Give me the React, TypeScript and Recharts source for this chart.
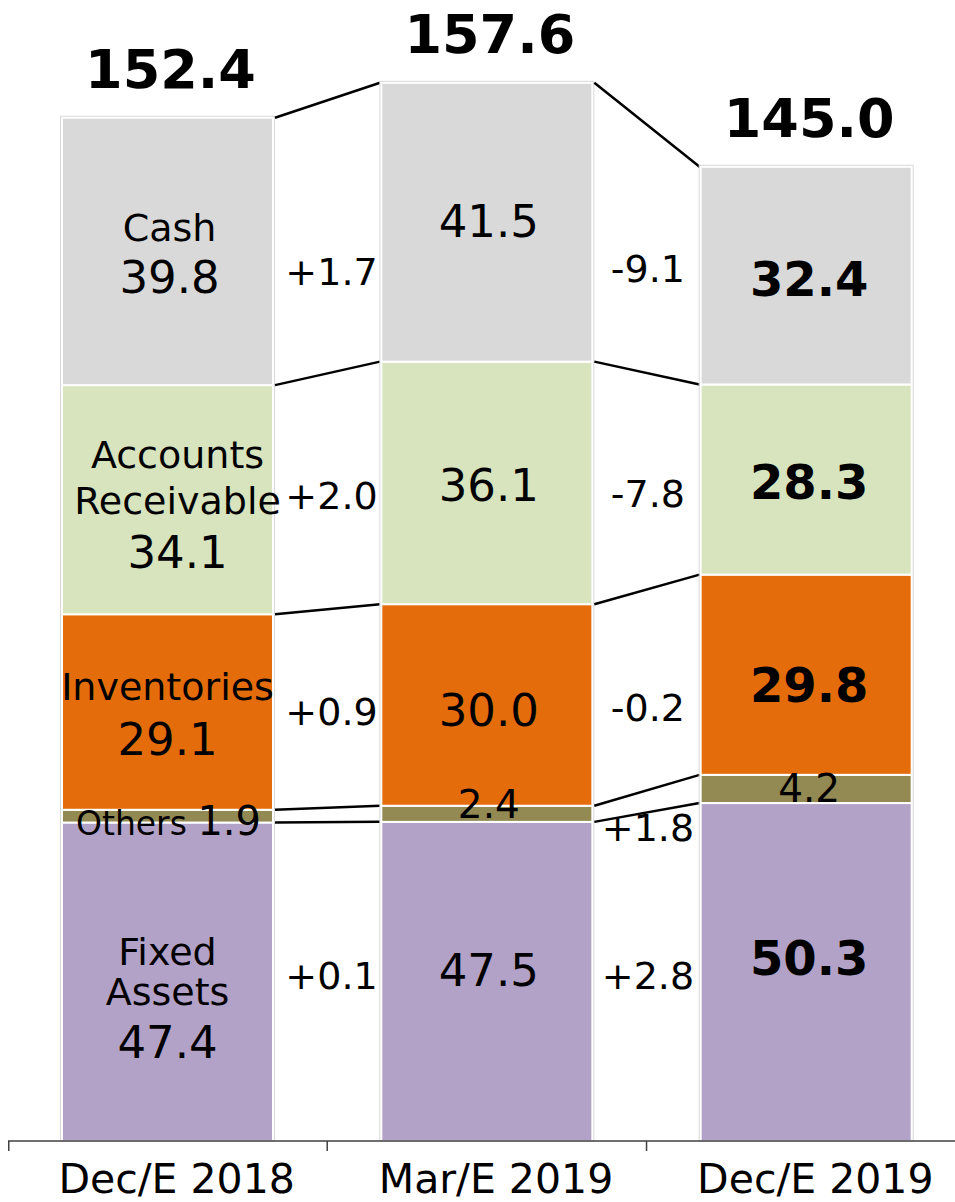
import React from 'react';
import { BarChart, Bar, XAxis, YAxis } from 'recharts';

// ---------- data ----------
const categories = ['Dec/E 2018', 'Mar/E 2019', 'Dec/E 2019'];
const fixedAssets = [47.4, 47.5, 50.3];
const others = [1.9, 2.4, 4.2];
const inventories = [29.1, 30.0, 29.8];
const receivables = [34.1, 36.1, 28.3];
const cash = [39.8, 41.5, 32.4];
const totalLabels = ['152.4', '157.6', '145.0'];
// changes between periods, bottom-up order: fixed, others, inventories, receivables, cash
const changeLabels1 = ['+0.1', '', '+0.9', '+2.0', '+1.7'];
const changeLabels2 = ['+2.8', '+1.8', '-0.2', '-7.8', '-9.1'];

const seriesKeys = ['fixed', 'others', 'inventories', 'receivables', 'cash'];
const seriesNames = [['Fixed', 'Assets'], ['Others'], ['Inventories'], ['Accounts', 'Receivable'], ['Cash']];
const seriesColors = ['#B3A2C7', '#938953', '#E46C0A', '#D7E4BD', '#D9D9D9'];
const seriesValues = [fixedAssets, others, inventories, receivables, cash];

const data = categories.map((c, i) => ({
  name: c,
  fixed: fixedAssets[i],
  others: others[i],
  inventories: inventories[i],
  receivables: receivables[i],
  cash: cash[i],
}));

// ---------- style / layout ----------
const FONT = '"DejaVu Sans", Verdana, sans-serif';
const MARGIN = { top: 66, right: 0, bottom: 0, left: 8 };
const NAME_SIZE = 38;
const NUM_SIZE = 45;
const DELTA_SIZE = 38;

// baseline offsets relative to segment centre
const nameDy0 = [[-17, 23], [], [-12], [-31.5, 14.5], [-10.5]];
const nameDx0 = [0, 0, 0, 10, 2];
const valueDy0 = [76, 18.5, 43, 68.5, 41.5];
const valueDy1 = [5, 4, 21, 18, 15];
const valueDy2 = [3, 13, 27, 19, 20];
const deltaDy = [
  [-7, 0, 3, 4, 34],
  [-2, 26, 17, 12, 19.5],
];
const deltaDx = [4, 1];

function cumBelow(i: number, s: number) {
  let t = 0;
  for (let k = 0; k < s; k++) t += seriesValues[k][i];
  return t;
}

const makeShape = (color: string) => (props: any) => {
  const { x, y, width, height } = props;
  return <rect x={x} y={y} width={width} height={Math.abs(height)} fill={color} stroke="#fff" strokeWidth={2} />;
};

const TopShape = (props: any) => {
  const { x, y, width, height, index } = props;
  const i: number = index;
  const h = Math.abs(height);
  const ppu = h / cash[i];
  const total = cumBelow(i, 5);
  const base = y + total * ppu;
  const step = (x + width / 2 - MARGIN.left) / (i + 0.5);

  const segTop = (bi: number, s: number) => base - cumBelow(bi, s + 1) * ppu;
  const segBot = (bi: number, s: number) => base - cumBelow(bi, s) * ppu;
  const segMid = (bi: number, s: number) => (segTop(bi, s) + segBot(bi, s)) / 2;
  const cx = x + width / 2;

  const els: React.ReactNode[] = [];

  els.push(
    <rect key="outline" x={x - 1.5} y={y - 1.5} width={width + 3} height={base - y + 1.5} fill="none" stroke="#d8d8d8" strokeWidth={1} />
  );

  const xb = cx - step / 2;
  const xt = xb + (i === 0 ? 0.75 : 0);
  els.push(<line key="tk" x1={xt} y1={base} x2={xt} y2={base + 10} stroke="#404040" strokeWidth={1.5} />);

  for (let s = 0; s < 5; s++) {
    const mid = segMid(i, s);
    const valText = seriesValues[s][i].toFixed(1);
    if (i === 0) {
      if (s === 1) {
        els.push(
          <text key={`l${s}`} x={cx + 1} y={mid + valueDy0[s]} textAnchor="middle" fontFamily={FONT} fill="#000">
            <tspan fontSize={33}>{seriesNames[s][0]} </tspan>
            <tspan fontSize={40}>{valText}</tspan>
          </text>
        );
      } else {
        seriesNames[s].forEach((nm, k) => {
          els.push(
            <text key={`n${s}-${k}`} x={cx + nameDx0[s]} y={mid + nameDy0[s][k]} textAnchor="middle" fontFamily={FONT} fontSize={NAME_SIZE} fill="#000">
              {nm}
            </text>
          );
        });
        els.push(
          <text key={`v${s}`} x={cx + nameDx0[s]} y={mid + valueDy0[s]} textAnchor="middle" fontFamily={FONT} fontSize={NUM_SIZE} fill="#000">
            {valText}
          </text>
        );
      }
    } else if (i === 1) {
      els.push(
        <text key={`v${s}`} x={cx + 2} y={mid + valueDy1[s]} textAnchor="middle" fontFamily={FONT} fontSize={s === 1 ? 39 : NUM_SIZE} fill="#000">
          {valText}
        </text>
      );
    } else {
      const bold = s !== 1;
      els.push(
        <text key={`v${s}`} x={cx + 3} y={mid + valueDy2[s]} textAnchor="middle" fontFamily={FONT} fontSize={bold ? 48 : 39} fontWeight={bold ? 'bold' : 'normal'} fill="#000">
          {valText}
        </text>
      );
    }
  }

  els.push(
    <text key="tot" x={cx + 3} y={y - 30} textAnchor="middle" fontFamily={FONT} fontSize={54} fontWeight="bold" fill="#000">
      {totalLabels[i]}
    </text>
  );

  if (i < 2) {
    const xr = x + width + 2;
    const xl = x + step - 1;
    const labels = i === 0 ? changeLabels1 : changeLabels2;
    for (let s = 0; s < 5; s++) {
      els.push(<line key={`c${s}`} x1={xr} y1={segTop(i, s)} x2={xl} y2={segTop(i + 1, s)} stroke="#000" strokeWidth={2.5} />);
      if (labels[s]) {
        const my = (segMid(i, s) + segMid(i + 1, s)) / 2 + deltaDy[i][s] + 14;
        els.push(
          <text key={`d${s}`} x={(xr + xl) / 2 + deltaDx[i]} y={my} textAnchor="middle" fontFamily={FONT} fontSize={DELTA_SIZE} fill="#000">
            {labels[s]}
          </text>
        );
      }
    }
  }

  return (
    <g>
      <rect x={x} y={y} width={width} height={h} fill={seriesColors[4]} stroke="#fff" strokeWidth={2} />
      {els}
    </g>
  );
};

const CategoryTick = (props: any) => {
  const { x, y, payload } = props;
  return (
    <text x={x + 9} y={y + 52} textAnchor="middle" fontFamily={FONT} fontSize={41} fill="#000">
      {payload.value}
    </text>
  );
};

export default function App() {
  return (
    <div style={{ position: 'absolute', left: 0, top: 0, width: 955, height: 1202, overflow: 'hidden', background: '#fff' }}>
      <BarChart width={966} height={1202} data={data} margin={MARGIN} barSize={211}>
        <XAxis
          dataKey="name"
          height={61}
          tickLine={false}
          tickSize={0}
          tickMargin={0}
          axisLine={{ stroke: '#404040', strokeWidth: 1.5 }}
          tick={<CategoryTick />}
          interval={0}
        />
        <YAxis hide domain={[0, 160]} />
        {seriesKeys.map((k, s) => (
          <Bar
            key={k}
            dataKey={k}
            stackId="a"
            isAnimationActive={false}
            fill={seriesColors[s]}
            shape={s === 4 ? TopShape : makeShape(seriesColors[s])}
          />
        ))}
      </BarChart>
    </div>
  );
}
